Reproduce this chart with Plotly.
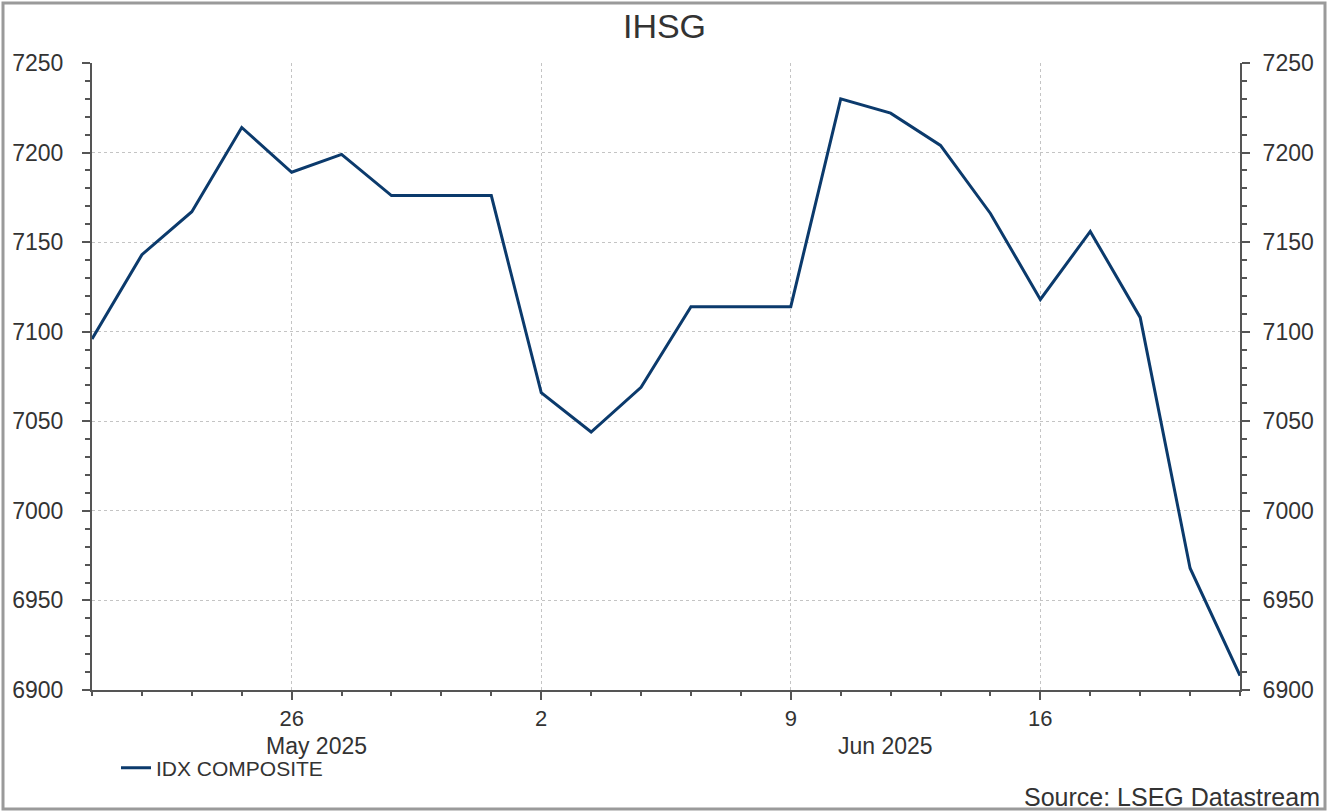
import plotly.graph_objects as go

dates = ["2025-05-20", "2025-05-21", "2025-05-22", "2025-05-23", "2025-05-26", "2025-05-27",
         "2025-05-28", "2025-05-29", "2025-05-30", "2025-06-02", "2025-06-03", "2025-06-04",
         "2025-06-05", "2025-06-06", "2025-06-09", "2025-06-10", "2025-06-11", "2025-06-12",
         "2025-06-13", "2025-06-16", "2025-06-17", "2025-06-18", "2025-06-19", "2025-06-20"]
idx_composite = [7096, 7143, 7167, 7214, 7189, 7199, 7176, 7176, 7176, 7066, 7044, 7069,
                 7114, 7114, 7114, 7230, 7222, 7204, 7166, 7118, 7156, 7108, 6968, 6908]
tick_dates = ["2025-05-26", "2025-06-02", "2025-06-09", "2025-06-16"]
tick_labels = ["26", "2", "9", "16"]
month_labels = ["May 2025", "Jun 2025"]
month_positions = [4.5, 15.9]

x = list(range(len(dates)))
tickvals = [dates.index(d) for d in tick_dates]

W, H = 1329, 812
L, R, T, B = 92, 89, 63, 122
pw, ph = W - L - R, H - T - B

def px_x(p):
    return (p - L) / pw

def px_y(p):
    return (H - B - p) / ph

axis_col = "#555555"
text_col = "#333333"
grid_col = "#c4c4c4"
font = "Liberation Sans, Arial, sans-serif"

fig = go.Figure()
fig.add_trace(go.Scatter(x=x, y=idx_composite, mode="lines", name="IDX COMPOSITE",
                         line=dict(color="#0b3a6c", width=3)))
fig.add_trace(go.Scatter(x=x, y=idx_composite, mode="lines", yaxis="y2", showlegend=False,
                         hoverinfo="skip", line=dict(color="rgba(0,0,0,0)", width=0)))

yax = dict(range=[6900, 7250], dtick=50, tick0=6900, showline=True, linecolor=axis_col,
           linewidth=2, ticks="outside", ticklen=8, tickwidth=2, tickcolor=axis_col,
           tickfont=dict(size=23, color=text_col, family=font), zeroline=False,
           minor=dict(dtick=10, ticks="outside", ticklen=5, tickwidth=2, tickcolor=axis_col,
                      showgrid=False))

fig.update_layout(
    width=W, height=H,
    margin=dict(l=L, r=R, t=T, b=B),
    paper_bgcolor="white", plot_bgcolor="white",
    font=dict(family=font, color=text_col),
    title=dict(text="IHSG", x=0.5, xanchor="center", y=1 - 26 / H, yanchor="middle",
               font=dict(size=34, color=text_col, family=font)),
    xaxis=dict(range=[0, len(dates) - 1], tickvals=tickvals, ticktext=tick_labels,
               showline=True, linecolor=axis_col, linewidth=2, ticks="outside", ticklen=8,
               tickwidth=2, tickcolor=axis_col, zeroline=False, ticklabelstandoff=0,
               tickfont=dict(size=22, color=text_col, family=font),
               showgrid=True, gridcolor=grid_col, griddash="dot", gridwidth=1,
               minor=dict(tickvals=x, ticks="outside", ticklen=4, tickwidth=2,
                          tickcolor=axis_col, showgrid=False)),
    yaxis=dict(**yax, side="left", showgrid=True, gridcolor=grid_col, griddash="dot",
               gridwidth=1, ticklabelstandoff=14),
    yaxis2=dict(**yax, side="right", overlaying="y", showgrid=False, matches="y",
                ticklabelstandoff=8),
    showlegend=True,
    legend=dict(x=px_x(116), y=px_y(768), xanchor="left", yanchor="middle",
                orientation="h", bgcolor="rgba(0,0,0,0)",
                font=dict(size=21, color=text_col, family=font)),
)

for lab, pos in zip(month_labels, month_positions):
    fig.add_annotation(x=pos, xref="x", y=px_y(746), yref="paper", text=lab, showarrow=False,
                       xanchor="center", yanchor="middle",
                       font=dict(size=23, color=text_col, family=font))

fig.add_annotation(x=px_x(1322), xref="paper", y=px_y(797), yref="paper",
                   text="Source: LSEG Datastream", showarrow=False, xanchor="right",
                   yanchor="middle", font=dict(size=25, color=text_col, family=font))

fig.add_shape(type="rect", xref="paper", yref="paper", x0=px_x(3), x1=px_x(1325),
              y0=px_y(809), y1=px_y(3), line=dict(color="#9a9a9a", width=3), layer="below")

fig.write_html("out.html", config={"displayModeBar": False},
               post_script="document.body.style.margin='0';document.body.style.padding='0';")
